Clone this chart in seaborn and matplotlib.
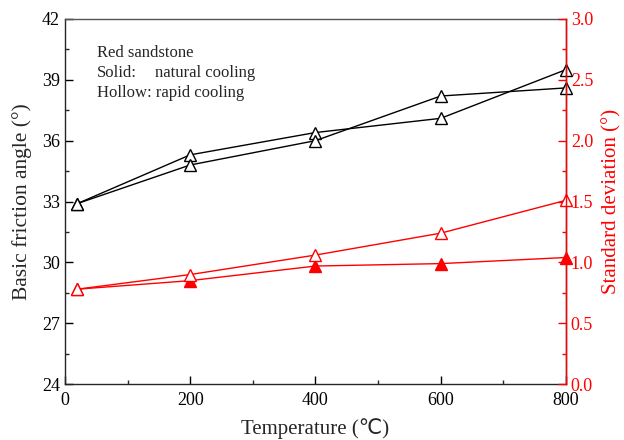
import matplotlib
matplotlib.use("Agg")
import matplotlib.pyplot as plt
import seaborn as sns
import pandas as pd
from matplotlib.ticker import MultipleLocator

sns.set_style("ticks")
plt.rcParams['font.family'] = ['Liberation Serif', 'DejaVu Sans']
plt.rcParams['mathtext.fontset'] = 'stix'

temperature = [20, 200, 400, 600, 800]
angle_a = [32.9, 35.3, 36.4, 37.1, 39.5]
angle_b = [32.9, 34.8, 36.0, 38.2, 38.6]
std_natural = [0.78, 0.85, 0.97, 0.99, 1.04]
std_rapid = [0.78, 0.90, 1.06, 1.24, 1.51]

fig = plt.figure(figsize=(6.24, 4.4), dpi=100)
ax = fig.add_axes([0.104, 0.127, 0.803, 0.83])
ax2 = ax.twinx()

df_a = pd.DataFrame({"T": temperature, "v": angle_a})
df_b = pd.DataFrame({"T": temperature, "v": angle_b})
df_n = pd.DataFrame({"T": temperature, "v": std_natural})
df_r = pd.DataFrame({"T": temperature, "v": std_rapid})

common = dict(x="T", y="v", marker="^", markersize=9, linewidth=1.0, clip_on=False)
sns.lineplot(data=df_a, ax=ax, color="black", markerfacecolor="white",
             markeredgecolor="black", markeredgewidth=1.0, **common)
sns.lineplot(data=df_b, ax=ax, color="black", markerfacecolor="white",
             markeredgecolor="black", markeredgewidth=1.0, **common)
sns.lineplot(data=df_n, ax=ax2, color="red", markerfacecolor="red",
             markeredgecolor="red", markeredgewidth=1.0, **common)
sns.lineplot(data=df_r, ax=ax2, color="red", markerfacecolor="white",
             markeredgecolor="red", markeredgewidth=1.0, **common)

ax.set_xlim(0, 800)
ax.set_ylim(24, 42)
ax2.set_ylim(0, 3.0)

ax.xaxis.set_major_locator(MultipleLocator(200))
ax.xaxis.set_minor_locator(MultipleLocator(100))
ax.yaxis.set_major_locator(MultipleLocator(3))
ax.yaxis.set_minor_locator(MultipleLocator(1.5))
ax2.yaxis.set_minor_locator(MultipleLocator(0.25))
ax2.set_yticks([0, 0.5, 1.0, 1.5, 2.0, 2.5, 3.0])
ax2.set_yticklabels(["0.0", "0.5", "1.0", "1.5", "2.0", "2.5", "3.0"])

ax.tick_params(axis="both", which="major", direction="in", length=6, width=1,
               labelsize=13, colors="black")
ax.tick_params(axis="both", which="minor", direction="in", length=3, width=1)
ax.tick_params(axis="x", pad=6)
ax2.tick_params(axis="y", which="major", direction="in", length=6, width=1,
                labelsize=13, colors="red")
ax2.tick_params(axis="y", which="minor", direction="in", length=3, width=1,
                colors="red")

for s in ax.spines.values():
    s.set_linewidth(1.0)
ax.spines["top"].set_color("#555555")
ax2.spines["right"].set_color("red")
ax2.spines["right"].set_linewidth(1.0)
ax2.spines["left"].set_visible(False)
ax2.spines["top"].set_visible(False)
ax2.spines["bottom"].set_visible(False)

ax.set_xlabel("Temperature (\u2103)", fontsize=15, labelpad=6)
ax.set_ylabel("Basic friction angle (\u00b0)", fontsize=15.5, labelpad=7)
ax2.set_ylabel("Standard deviation (\u00b0)", fontsize=15, color="red", labelpad=6)

ax.text(0.064, 0.907, "Red sandstone", transform=ax.transAxes, fontsize=12, va="center")
ax.text(0.064, 0.853, "Solid:", transform=ax.transAxes, fontsize=12, va="center")
ax.text(0.18, 0.853, "natural cooling", transform=ax.transAxes, fontsize=12, va="center")
ax.text(0.064, 0.797, "Hollow: rapid cooling", transform=ax.transAxes, fontsize=12, va="center")

fig.savefig("out.png", dpi=100)
